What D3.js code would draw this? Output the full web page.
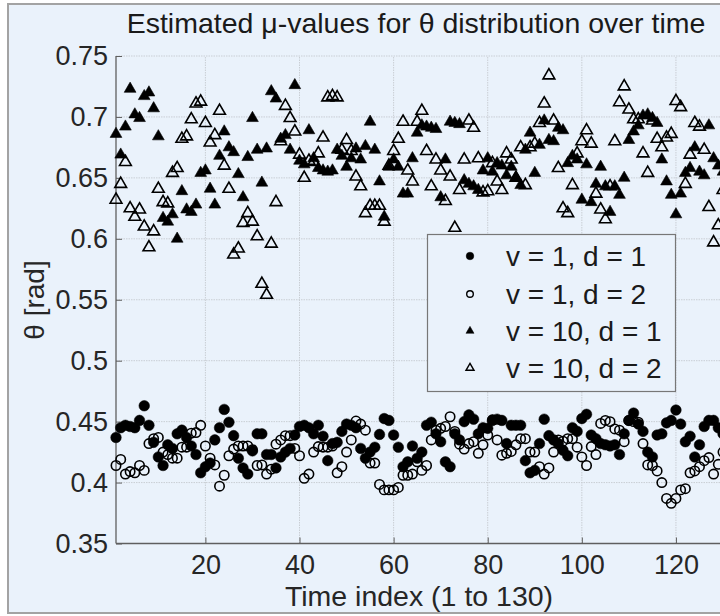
<!DOCTYPE html>
<html lang="en">
<head>
<meta charset="utf-8">
<title>Estimated mu-values</title>
<style>
  * { margin: 0; padding: 0; box-sizing: border-box; }
  body { background: #fff; }
  svg text { font-family: "Liberation Sans", Arial, sans-serif; }
</style>
</head>
<body>
<div id="chart"></div>
<script src="https://d3js.org/d3.v7.min.js"></script>
<script>
// time index 1..130
var timeIdx = d3.range(1, 131);

// v = 1, d = 1 (filled circles)
var circV1D1 = [0.437,0.445,0.447,0.446,0.445,0.451,0.463,0.447,0.433,0.421,
  0.414,0.431,0.428,0.440,0.443,0.437,0.430,0.423,0.408,0.413,
  0.416,0.435,0.445,0.460,0.4495,0.4385,0.420,0.412,0.407,0.426,
  0.440,0.440,0.423,0.423,0.412,0.421,0.425,0.428,0.439,0.446,
  0.447,0.445,0.440,0.447,0.438,0.418,0.432,0.433,0.442,0.448,
  0.447,0.445,0.428,0.420,0.425,0.429,0.4395,0.4525,0.451,0.439,
  0.429,0.413,0.417,0.430,0.420,0.425,0.447,0.4495,0.440,0.4335,
  0.417,0.413,0.440,0.435,0.450,0.4555,0.452,0.440,0.445,0.4445,
  0.451,0.452,0.451,0.432,0.447,0.447,0.447,0.418,0.408,0.410,
  0.432,0.452,0.4385,0.435,0.432,0.4265,0.422,0.445,0.442,0.4525,
  0.456,0.439,0.436,0.432,0.431,0.430,0.431,0.423,0.440,0.451,
  0.457,0.448,0.442,0.425,0.421,0.439,0.440,0.449,0.451,0.4595,
  0.448,0.4335,0.438,0.421,0.431,0.446,0.451,0.451,0.445,0.440];

// v = 1, d = 2 (open circles)
var circV1D2 = [0.414,0.419,0.407,0.409,0.408,0.414,0.410,0.432,0.436,0.437,
  0.425,0.423,0.420,0.420,0.429,0.429,0.4405,0.441,0.447,0.430,
  0.420,0.4145,0.397,0.406,0.422,0.4275,0.430,0.430,0.430,0.427,
  0.414,0.4145,0.407,0.411,0.4315,0.435,0.4385,0.4385,0.428,0.422,
  0.4035,0.407,0.425,0.4295,0.429,0.429,0.430,0.408,0.413,0.425,
  0.435,0.4505,0.448,0.443,0.416,0.416,0.3985,0.394,0.394,0.394,
  0.396,0.406,0.406,0.407,0.417,0.410,0.414,0.435,0.443,0.4445,
  0.446,0.454,0.442,0.4315,0.4275,0.432,0.4335,0.424,0.431,0.439,
  0.4515,0.435,0.4225,0.424,0.4255,0.431,0.436,0.436,0.425,0.425,
  0.413,0.407,0.412,0.425,0.435,0.434,0.436,0.436,0.429,0.421,
  0.414,0.4295,0.423,0.4485,0.451,0.450,0.444,0.443,0.4335,0.451,
  0.450,0.4495,0.432,0.4145,0.414,0.4095,0.400,0.387,0.383,0.387,
  0.394,0.395,0.408,0.4095,0.413,0.418,0.4205,0.407,0.415,0.425];

// v = 10, d = 1 (filled triangles)
var triV10D1 = [0.686,0.669,0.692,0.723,0.702,0.699,0.717,0.720,0.707,0.684,
  0.617,0.614,0.620,0.600,0.639,0.624,0.622,0.628,0.654,0.656,
  0.641,0.628,0.668,0.688,0.675,0.671,0.653,0.634,0.667,0.699,
  0.673,0.646,0.674,0.721,0.715,0.682,0.685,0.673,0.726,0.664,
  0.661,0.689,0.666,0.658,0.656,0.655,0.656,0.673,0.668,0.659,
  0.666,0.674,0.665,0.676,0.696,0.673,0.647,0.618,0.659,0.665,
  0.659,0.637,0.637,0.666,0.687,0.693,0.692,0.691,0.690,0.634,
  0.665,0.696,0.695,0.694,0.648,0.645,0.643,0.640,0.656,0.666,
  0.655,0.662,0.660,0.652,0.659,0.650,0.644,0.673,0.687,0.654,
  0.677,0.697,0.681,0.680,0.691,0.689,0.662,0.668,0.665,0.632,
  0.661,0.630,0.645,0.659,0.643,0.622,0.643,0.636,0.650,0.681,
  0.688,0.693,0.701,0.702,0.699,0.695,0.665,0.647,0.636,0.620,
  0.637,0.654,0.658,0.675,0.655,0.652,0.693,0.666,0.660,0.655];

// v = 10, d = 2 (open triangles)
var triV10D2 = [0.632,0.645,0.663,0.625,0.618,0.624,0.610,0.593,0.606,0.641,
  0.630,0.629,0.654,0.658,0.682,0.684,0.698,0.711,0.7125,0.695,
  0.679,0.685,0.705,0.660,0.641,0.587,0.592,0.613,0.621,0.614,
  0.602,0.563,0.554,0.596,0.630,0.680,0.709,0.699,0.688,0.669,
  0.650,0.664,0.663,0.670,0.683,0.716,0.717,0.716,0.673,0.681,
  0.672,0.651,0.643,0.621,0.627,0.627,0.627,0.614,0.660,0.672,
  0.682,0.696,0.656,0.647,0.696,0.705,0.672,0.643,0.665,0.656,
  0.631,0.651,0.609,0.640,0.665,0.697,0.691,0.666,0.638,0.639,
  0.662,0.647,0.640,0.670,0.665,0.650,0.675,0.644,0.675,0.678,
  0.695,0.711,0.734,0.697,0.658,0.625,0.621,0.644,0.670,0.680,
  0.689,0.678,0.637,0.624,0.616,0.643,0.680,0.712,0.725,0.706,
  0.698,0.698,0.670,0.654,0.697,0.682,0.675,0.683,0.686,0.713,
  0.708,0.645,0.669,0.695,0.692,0.673,0.626,0.597,0.611,0.640];

var seriesNames = ["v = 1, d = 1", "v = 1, d = 2", "v = 10, d = 1", "v = 10, d = 2"];
var xTicks = [20, 40, 60, 80, 100, 120];
var yTicks = [0.35, 0.4, 0.45, 0.5, 0.55, 0.6, 0.65, 0.7, 0.75];

var W = 720, H = 616;
var bg = "#eaf2fb";

var svg = d3.select("#chart").append("svg")
    .attr("width", W)
    .attr("height", H);

// figure frame
svg.append("rect")
    .attr("x", 8).attr("y", 4)
    .attr("width", W + 10).attr("height", 609)
    .style("fill", bg)
    .style("stroke", "#a3a3a3")
    .style("stroke-width", 2);

var x = d3.scaleLinear().domain([1, 130]).range([116, 723]);
var y = d3.scaleLinear().domain([0.35, 0.75]).range([543.5, 56]);

// grid
var grid = svg.append("g");
grid.selectAll(".gx")
    .data(xTicks)
    .enter().append("line")
    .attr("x1", d => x(d)).attr("x2", d => x(d))
    .attr("y1", y(0.35)).attr("y2", y(0.75))
    .style("stroke", "#c9ced4")
    .style("stroke-width", 1)
    .style("stroke-dasharray", "1.5,1");
grid.selectAll(".gy")
    .data(yTicks)
    .enter().append("line")
    .attr("x1", x(1)).attr("x2", W + 10)
    .attr("y1", d => y(d)).attr("y2", d => y(d))
    .style("stroke", "#c9ced4")
    .style("stroke-width", 1)
    .style("stroke-dasharray", "1.5,1");

// axes
var xAxis = d3.axisBottom(x).tickValues(xTicks).tickSize(-6).tickPadding(11);
var yAxis = d3.axisLeft(y).tickValues(yTicks).tickSize(-6).tickPadding(8)
    .tickFormat(d3.format("~g"));

var gx = svg.append("g")
    .attr("transform", "translate(0," + y(0.35) + ")")
    .call(xAxis);
var gy = svg.append("g")
    .attr("transform", "translate(" + x(1) + ",0)")
    .call(yAxis);

[gx, gy].forEach(function (g) {
    g.select(".domain").style("stroke", "#5f5f5f").style("stroke-width", 1.3);
    g.selectAll(".tick line").style("stroke", "#5f5f5f").style("stroke-width", 1);
    g.selectAll(".tick text")
        .style("font-family", "'Liberation Sans', Arial, sans-serif")
        .style("font-size", "27px")
        .style("fill", "#262626");
});
gx.select(".domain").attr("d", "M" + x(1) + ",0H" + (W + 10));
gy.select(".domain").attr("d", "M0," + y(0.35) + "V" + y(0.75));

// data marks
var pts = svg.append("g");
var triPath = d3.symbol().type(d3.symbolTriangle).size(60)();

function drawCircles(vals, filled) {
    pts.append("g").selectAll("circle")
        .data(vals)
        .enter().append("circle")
        .attr("cx", (d, i) => x(timeIdx[i]))
        .attr("cy", d => y(d))
        .attr("r", filled ? 5.3 : 4.7)
        .style("fill", filled ? "#000" : "none")
        .style("stroke", "#000")
        .style("stroke-width", filled ? 0.5 : 1.6);
}
function drawTriangles(vals, filled) {
    pts.append("g").selectAll("path")
        .data(vals)
        .enter().append("path")
        .attr("d", triPath)
        .attr("transform", (d, i) => "translate(" + x(timeIdx[i]) + "," + y(d) + ")")
        .style("fill", filled ? "#000" : "none")
        .style("stroke", "#000")
        .style("stroke-width", filled ? 0.6 : 1.6)
        .style("stroke-linejoin", "miter");
}
drawCircles(circV1D1, true);
drawCircles(circV1D2, false);
drawTriangles(triV10D1, true);
drawTriangles(triV10D2, false);

// title and labels
svg.append("text")
    .attr("x", 416).attr("y", 33)
    .attr("text-anchor", "middle")
    .style("font-size", "28.5px")
    .style("fill", "#1a1a1a")
    .text("Estimated \u03bc-values for \u03b8 distribution over time");

svg.append("text")
    .attr("x", 419).attr("y", 606)
    .attr("text-anchor", "middle")
    .style("font-size", "28.5px")
    .style("fill", "#262626")
    .text("Time index (1 to 130)");

svg.append("text")
    .attr("transform", "translate(44,300) rotate(-90)")
    .attr("text-anchor", "middle")
    .style("font-size", "28px")
    .style("fill", "#262626")
    .text("\u03b8 [rad]");

// legend
var leg = svg.append("g");
leg.append("rect")
    .attr("x", 427.5).attr("y", 234.5)
    .attr("width", 248).attr("height", 157)
    .style("fill", bg)
    .style("stroke", "#777")
    .style("stroke-width", 1.2);

var rowY = [256, 294, 331, 368];
var legTri = d3.symbol().type(d3.symbolTriangle).size(28)();
seriesNames.forEach(function (name, i) {
    var mk;
    if (i < 2) {
        mk = leg.append("circle")
            .attr("cx", 470).attr("cy", rowY[i])
            .attr("r", i === 0 ? 3.8 : 3.3);
    } else {
        mk = leg.append("path")
            .attr("d", legTri)
            .attr("transform", "translate(470," + rowY[i] + ")");
    }
    mk.style("fill", i % 2 === 0 ? "#000" : "none")
        .style("stroke", "#000")
        .style("stroke-width", i % 2 === 0 ? 0.5 : 1.4);

    leg.append("text")
        .attr("x", 506).attr("y", rowY[i])
        .attr("dy", "0.36em")
        .style("font-size", "28px")
        .style("fill", "#1a1a1a")
        .text(name);
});
</script>
</body>
</html>
